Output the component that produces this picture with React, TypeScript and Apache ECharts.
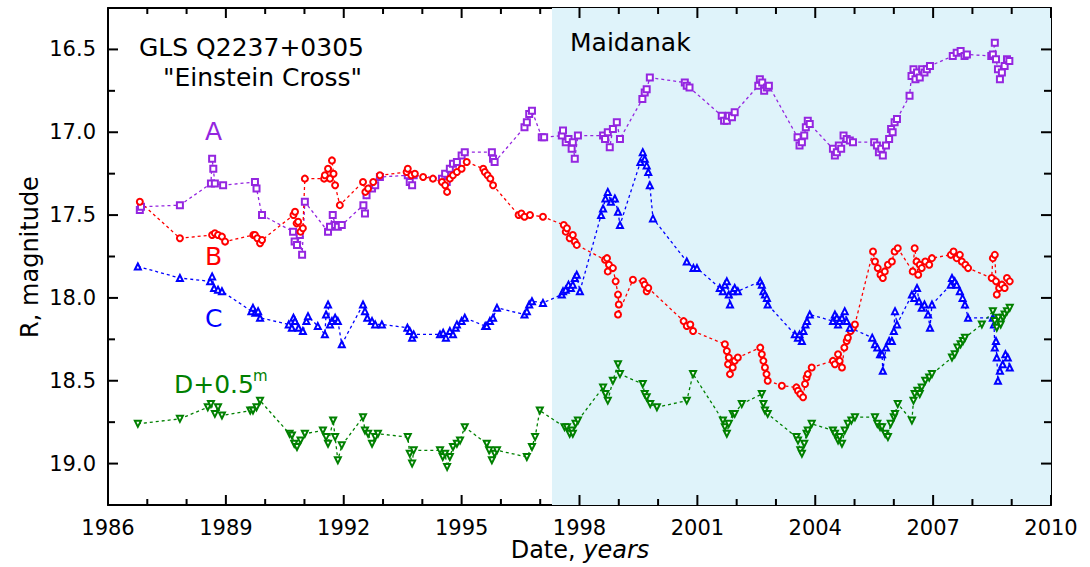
import React, { useEffect, useRef } from "react";
import * as echarts from "echarts";

// ---- Data (year, R magnitude) ----
const seriesA: number[][] = [
  [1986.81,17.47],[1986.84,17.45],
  [1987.83,17.44],
  [1988.62,17.31],[1988.65,17.16],[1988.68,17.22],[1988.72,17.31],[1988.93,17.32],
  [1989.74,17.30],[1989.78,17.34],[1989.92,17.50],
  [1990.71,17.60],[1990.75,17.66],[1990.81,17.68],[1990.88,17.62],[1990.94,17.74],[1991.01,17.42],
  [1991.60,17.60],[1991.65,17.57],[1991.72,17.50],[1991.78,17.56],[1991.85,17.57],[1991.95,17.56],
  [1992.50,17.44],[1992.54,17.49],[1992.58,17.38],[1992.72,17.34],[1992.80,17.32],[1992.92,17.27],
  [1993.63,17.26],[1993.68,17.30],[1993.74,17.32],[1993.78,17.26],
  [1994.50,17.28],[1994.58,17.25],[1994.62,17.30],[1994.70,17.22],[1994.78,17.19],[1994.88,17.18],[1995.00,17.14],[1995.08,17.12],
  [1995.77,17.12],[1995.80,17.16],[1995.84,17.18],
  [1996.60,16.97],[1996.66,16.94],[1996.72,16.89],[1996.79,16.87],
  [1997.04,17.03],[1997.10,17.03],
  [1997.55,17.02],[1997.58,16.99],[1997.65,17.06],[1997.72,17.04],[1997.80,17.10],[1997.83,17.06],[1997.88,17.16],[1997.96,17.02],
  [1998.60,17.02],[1998.65,17.04],[1998.72,17.00],[1998.77,17.09],[1998.85,16.98],[1998.95,16.94],[1999.03,17.04],
  [1999.60,16.80],[1999.66,16.76],[1999.71,16.74],[1999.79,16.67],
  [2000.68,16.70],[2000.73,16.72],[2000.80,16.73],
  [2001.62,16.90],[2001.68,16.93],[2001.75,16.93],[2001.80,16.90],[2001.88,16.91],[2001.95,16.88],
  [2002.55,16.72],[2002.59,16.68],[2002.65,16.70],[2002.70,16.75],[2002.77,16.73],[2002.82,16.72],
  [2003.55,17.03],[2003.60,17.08],[2003.66,17.06],[2003.72,17.02],[2003.76,16.97],[2003.81,16.93],[2003.86,16.95],
  [2004.45,17.10],[2004.50,17.14],[2004.55,17.12],[2004.60,17.08],[2004.66,17.10],[2004.72,17.02],[2004.80,17.04],[2004.88,17.05],[2004.96,17.06],
  [2005.50,17.06],[2005.57,17.08],[2005.62,17.12],[2005.68,17.10],[2005.72,17.14],[2005.80,17.08],[2005.88,17.04],[2005.93,16.98],[2005.97,17.00],[2006.02,16.94],[2006.08,16.92],
  [2006.40,16.78],
  [2006.45,16.66],[2006.50,16.62],[2006.55,16.68],[2006.59,16.64],[2006.66,16.67],[2006.72,16.62],[2006.78,16.64],[2006.84,16.62],[2006.92,16.60],
  [2007.50,16.54],[2007.60,16.52],[2007.70,16.51],[2007.80,16.54],[2007.86,16.53],
  [2008.48,16.54],[2008.52,16.53],[2008.57,16.46],[2008.60,16.56],[2008.65,16.62],[2008.70,16.68],[2008.75,16.64],[2008.82,16.60],[2008.88,16.56],[2008.94,16.57]
];

const seriesB: number[][] = [
  [1986.81,17.42],
  [1987.83,17.64],
  [1988.65,17.62],[1988.72,17.61],[1988.80,17.62],[1988.90,17.63],[1988.98,17.66],
  [1989.70,17.62],[1989.74,17.62],[1989.80,17.64],[1989.87,17.67],[1989.92,17.65],
  [1990.72,17.50],[1990.76,17.48],[1990.80,17.55],[1990.84,17.54],[1990.90,17.60],[1990.96,17.58],
  [1991.01,17.28],
  [1991.50,17.28],[1991.52,17.26],[1991.60,17.22],[1991.65,17.28],[1991.70,17.17],[1991.74,17.25],[1991.78,17.32],[1991.90,17.44],
  [1992.49,17.30],[1992.55,17.36],[1992.62,17.34],[1992.75,17.30],[1992.92,17.26],
  [1993.60,17.24],[1993.63,17.22],[1993.72,17.26],[1993.81,17.25],
  [1994.02,17.27],[1994.27,17.28],
  [1994.50,17.30],[1994.58,17.32],[1994.63,17.36],[1994.70,17.28],[1994.78,17.26],[1994.88,17.24],[1995.00,17.22],[1995.13,17.18],
  [1995.55,17.22],[1995.59,17.24],[1995.66,17.26],[1995.73,17.28],[1995.80,17.32],
  [1996.45,17.50],[1996.52,17.49],[1996.60,17.51],[1996.74,17.50],[1997.07,17.51],
  [1997.60,17.56],[1997.65,17.60],[1997.68,17.58],[1997.75,17.64],[1997.83,17.62],[1997.88,17.66],[1997.93,17.68],
  [1998.65,17.77],[1998.70,17.76],[1998.75,17.80],[1998.72,17.84],[1998.85,17.82],[1998.92,17.90],[1998.98,17.98],[1999.00,18.04],[1998.98,18.10],
  [1999.36,17.89],
  [1999.62,17.90],[1999.66,17.92],[1999.71,17.96],[1999.75,17.94],
  [2000.65,18.14],[2000.73,18.17],[2000.82,18.16],[2000.89,18.20],
  [2001.70,18.28],[2001.75,18.32],[2001.78,18.40],[2001.80,18.36],[2001.83,18.46],[2001.90,18.42],[2001.95,18.38],[2002.03,18.36],
  [2002.60,18.30],[2002.64,18.34],[2002.68,18.38],[2002.72,18.42],[2002.76,18.46],[2002.79,18.50],
  [2003.15,18.53],
  [2003.52,18.54],[2003.56,18.56],[2003.62,18.58],[2003.69,18.60],[2003.74,18.52],[2003.78,18.48],[2003.81,18.46],[2003.91,18.42],
  [2004.45,18.38],[2004.50,18.40],[2004.58,18.34],[2004.62,18.38],[2004.68,18.42],[2004.74,18.30],[2004.80,18.26],[2004.83,18.24],[2004.90,18.20],[2004.96,18.18],[2005.01,18.16],
  [2005.47,17.72],[2005.52,17.78],[2005.59,17.82],[2005.66,17.86],[2005.72,17.88],[2005.77,17.84],[2005.85,17.80],[2005.95,17.78],[2006.02,17.72],[2006.10,17.70],
  [2006.48,17.84],[2006.53,17.70],[2006.58,17.78],[2006.62,17.86],[2006.66,17.80],[2006.71,17.82],[2006.80,17.78],[2006.90,17.80],[2006.97,17.76],
  [2007.45,17.74],[2007.52,17.72],[2007.60,17.76],[2007.68,17.74],[2007.73,17.78],[2007.82,17.80],[2007.89,17.82],
  [2008.49,17.88],[2008.52,17.76],[2008.57,17.74],[2008.60,17.90],[2008.62,17.98],[2008.68,17.94],[2008.75,17.92],[2008.82,17.94],[2008.88,17.88],[2008.95,17.90]
];

const seriesC: number[][] = [
  [1986.76,17.81],
  [1987.83,17.88],
  [1988.60,17.90],[1988.65,17.87],[1988.70,17.94],[1988.80,17.95],[1988.90,17.96],
  [1989.65,18.08],[1989.69,18.06],[1989.75,18.09],[1989.82,18.08],[1989.87,18.12],
  [1990.60,18.16],[1990.68,18.18],[1990.72,18.12],[1990.76,18.14],[1990.85,18.18],[1990.96,18.20],[1991.05,18.14],[1991.09,18.11],
  [1991.34,18.17],[1991.52,18.22],[1991.55,18.10],[1991.60,18.04],[1991.65,18.16],[1991.70,18.14],[1991.78,18.12],[1991.85,18.14],[1991.95,18.28],
  [1992.49,18.04],[1992.54,18.08],[1992.60,18.12],[1992.72,18.14],[1992.80,18.16],[1992.97,18.16],
  [1993.62,18.18],[1993.68,18.20],[1993.74,18.24],[1993.78,18.22],
  [1994.45,18.22],[1994.53,18.21],[1994.60,18.24],[1994.70,18.20],[1994.78,18.22],[1994.85,18.18],[1994.88,18.16],[1995.00,18.14],[1995.08,18.12],
  [1995.60,18.17],[1995.64,18.17],[1995.72,18.14],[1995.80,18.12],[1995.90,18.06],
  [1996.60,18.10],[1996.66,18.08],[1996.72,18.04],[1996.79,18.02],[1997.07,18.03],
  [1997.55,17.98],[1997.58,17.96],[1997.65,17.95],[1997.72,17.92],[1997.78,17.94],[1997.83,17.92],[1997.88,17.88],[1997.93,17.86],[1998.01,17.96],
  [1998.55,17.50],[1998.60,17.46],[1998.66,17.40],[1998.72,17.36],[1998.80,17.42],[1998.90,17.40],[1998.98,17.48],[1999.03,17.56],
  [1999.55,17.18],[1999.61,17.12],[1999.66,17.16],[1999.71,17.20],[1999.75,17.24],[1999.79,17.32],[1999.87,17.52],
  [2000.73,17.78],[2000.90,17.82],[2000.99,17.82],
  [2001.57,17.94],[2001.65,17.96],[2001.70,17.92],[2001.75,17.90],[2001.80,17.98],[2001.83,18.04],[2001.90,17.96],[2001.95,17.94],[2002.03,17.96],
  [2002.60,17.90],[2002.64,17.92],[2002.68,17.96],[2002.72,17.98],[2002.77,18.00],[2002.79,18.04],
  [2003.48,18.22],[2003.56,18.24],[2003.60,18.22],[2003.66,18.26],[2003.70,18.20],[2003.75,18.16],[2003.79,18.14],[2003.86,18.10],
  [2004.45,18.14],[2004.50,18.10],[2004.55,18.12],[2004.58,18.16],[2004.62,18.14],[2004.68,18.12],[2004.75,18.08],[2004.80,18.14],[2004.88,18.18],
  [2005.45,18.24],[2005.52,18.28],[2005.58,18.30],[2005.65,18.34],[2005.70,18.34],[2005.72,18.44],[2005.80,18.30],[2005.88,18.26],[2005.95,18.26],[2006.00,18.20],[2006.03,18.08],[2006.08,18.16],
  [2006.46,17.98],[2006.52,18.00],[2006.59,17.94],[2006.64,18.02],[2006.71,18.06],[2006.78,18.04],[2006.87,18.10],[2006.92,18.18],[2006.97,18.04],
  [2007.45,17.92],[2007.48,17.88],[2007.55,17.90],[2007.60,17.92],[2007.68,17.96],[2007.75,18.00],[2007.81,18.04],[2007.89,18.12],
  [2008.52,18.12],[2008.55,18.16],[2008.57,18.30],[2008.60,18.26],[2008.62,18.36],[2008.65,18.50],[2008.70,18.44],[2008.77,18.40],[2008.84,18.34],[2008.90,18.36],[2008.95,18.42]
];

const seriesD: number[][] = [
  [1986.76,18.76],
  [1987.83,18.73],
  [1988.54,18.66],[1988.62,18.64],[1988.72,18.70],[1988.80,18.66],[1988.90,18.71],
  [1989.62,18.68],[1989.69,18.68],[1989.78,18.66],[1989.87,18.62],
  [1990.62,18.82],[1990.68,18.83],[1990.74,18.88],[1990.81,18.90],[1990.90,18.86],[1991.01,18.82],
  [1991.47,18.80],[1991.55,18.84],[1991.60,18.88],[1991.73,18.74],[1991.78,18.84],[1991.85,18.98],[1991.95,18.89],
  [1992.49,18.72],[1992.54,18.80],[1992.62,18.82],[1992.72,18.88],[1992.80,18.84],[1992.87,18.82],
  [1993.63,18.84],[1993.68,18.94],[1993.74,19.00],[1993.78,18.92],
  [1994.45,18.92],[1994.52,18.96],[1994.58,18.94],[1994.63,19.02],[1994.70,18.96],[1994.78,18.90],[1994.88,18.88],[1994.96,18.86],[1995.08,18.78],
  [1995.64,18.88],[1995.70,18.92],[1995.77,18.98],[1995.84,18.94],[1995.90,18.92],
  [1996.66,18.96],[1996.79,18.90],[1996.87,18.84],[1996.99,18.68],
  [1997.62,18.78],[1997.68,18.78],[1997.75,18.82],[1997.80,18.80],[1997.83,18.82],[1997.90,18.76],[1997.96,18.74],
  [1998.60,18.54],[1998.66,18.58],[1998.72,18.62],[1998.85,18.50],[1998.98,18.40],[1999.03,18.46],
  [1999.61,18.52],[1999.66,18.58],[1999.71,18.60],[1999.80,18.64],[1999.97,18.66],
  [2000.73,18.62],[2000.89,18.46],
  [2001.65,18.74],[2001.70,18.78],[2001.75,18.82],[2001.80,18.76],[2001.90,18.70],[2001.95,18.70],[2002.13,18.64],
  [2002.64,18.58],[2002.68,18.64],[2002.72,18.68],[2002.79,18.70],
  [2003.52,18.84],[2003.56,18.86],[2003.62,18.92],[2003.66,18.94],[2003.72,18.88],[2003.78,18.82],[2003.81,18.80],[2003.91,18.76],
  [2004.45,18.80],[2004.50,18.82],[2004.58,18.86],[2004.62,18.84],[2004.68,18.88],[2004.75,18.80],[2004.83,18.76],[2004.92,18.74],[2005.01,18.72],
  [2005.52,18.72],[2005.58,18.76],[2005.65,18.78],[2005.70,18.78],[2005.78,18.82],[2005.85,18.84],[2005.92,18.76],[2006.00,18.72],[2006.03,18.70],[2006.10,18.64],
  [2006.46,18.74],[2006.50,18.62],[2006.53,18.58],[2006.60,18.56],[2006.66,18.58],[2006.71,18.54],[2006.80,18.50],[2006.90,18.48],[2006.97,18.46],
  [2007.48,18.36],[2007.55,18.34],[2007.62,18.30],[2007.70,18.28],[2007.76,18.26],[2007.81,18.24],
  [2008.24,18.16],
  [2008.52,18.08],[2008.57,18.14],[2008.62,18.18],[2008.66,18.12],[2008.72,18.16],[2008.78,18.12],[2008.82,18.10],[2008.88,18.08],[2008.95,18.06]
];

const maidanakStart = 1997.3;
const xMin = 1986, xMax = 2010, xStep = 3;
const yMin = 16.25, yMax = 19.25;
const xMajorTicks = [1986, 1989, 1992, 1995, 1998, 2001, 2004, 2007, 2010];
const xMinorTicks = [1987, 1988, 1990, 1991, 1993, 1994, 1996, 1997, 1999, 2000, 2002, 2003, 2005, 2006, 2008, 2009];
const yMajor = [16.5, 17.0, 17.5, 18.0, 18.5, 19.0];
const yMinor = [16.75, 17.25, 17.75, 18.25, 18.75];

const COL_A = "#9426e0";
const COL_B = "#ff0000";
const COL_C = "#0000ff";
const COL_D = "#008000";
const FONT = "'DejaVu Sans', Verdana, sans-serif";

export default function App() {
  const ref = useRef<HTMLDivElement>(null);
  useEffect(() => {
    document.body.style.margin = "0";
    const chart = echarts.init(ref.current!, undefined, { renderer: "svg" });
    const axisLine = { show: true, onZero: false, lineStyle: { color: "#000", width: 2 } };
    const mkX = (pos: "bottom" | "top", labels: boolean) => ({
      type: "value", position: pos, min: xMin, max: xMax, interval: xStep,
      axisLine, splitLine: { show: false }, axisTick: { show: false }, minorTick: { show: false },
      axisLabel: { show: labels, color: "#000", fontSize: 21, fontFamily: FONT, margin: 12, formatter: (v: number) => String(v) },
    });
    const mkY = (pos: "left" | "right", labels: boolean) => ({
      type: "value", position: pos, inverse: true, min: yMin, max: yMax,
      axisLine, splitLine: { show: false }, axisTick: { show: false },
      axisLabel: { show: labels, customValues: yMajor, color: "#000", fontSize: 21, fontFamily: FONT, margin: 12, formatter: (v: number) => v.toFixed(1) },
    });
    const mkSeries = (name: string, data: number[][], color: string, symbol: string, rotate = 0) => ({
      name, type: "line", data, xAxisIndex: 0, yAxisIndex: 0, z: 3,
      symbol, symbolSize: 6, symbolRotate: rotate,
      itemStyle: { color, borderWidth: 1.2 },
      lineStyle: { color, width: 1.3, type: [3, 3] },
    });
    chart.setOption({
      animation: false,
      backgroundColor: "#fff",
      grid: { left: 108, right: 39, top: 8, bottom: 62, containLabel: false },
      xAxis: [mkX("bottom", true), mkX("top", false)],
      yAxis: [mkY("left", true), mkY("right", false)],
      series: [
        {
          type: "line", data: [[maidanakStart, yMin]], symbol: "none", z: 1, silent: true,
          lineStyle: { width: 0 },
          markArea: { silent: true, itemStyle: { color: "#dff3fa" }, data: [[{ xAxis: maidanakStart }, { xAxis: xMax }]] },
        },
        mkSeries("A", seriesA, COL_A, "emptyRect"),
        mkSeries("B", seriesB, COL_B, "emptyCircle"),
        mkSeries("C", seriesC, COL_C, "emptyTriangle"),
        mkSeries("D+0.5", seriesD, COL_D, "emptyTriangle", 180),
      ],
    });
    // Static decorations placed through the axes' own scales
    const px = (x: number, y: number) => chart.convertToPixel({ gridIndex: 0 } as any, [x, y]) as number[];
    const els: any[] = [];
    const tick = (x: number, y: number, dx: number, dy: number) => {
      const p = px(x, y);
      els.push({ type: "line", silent: true, z: 100, shape: { x1: p[0], y1: p[1], x2: p[0] + dx, y2: p[1] + dy }, style: { stroke: "#000", lineWidth: 2 } });
    };
    xMajorTicks.forEach((v) => { tick(v, yMax, 0, -10); tick(v, yMin, 0, 10); });
    xMinorTicks.forEach((v) => { tick(v, yMax, 0, -6); tick(v, yMin, 0, 6); });
    yMajor.forEach((v) => { tick(xMin, v, 10, 0); tick(xMax, v, -10, 0); });
    yMinor.forEach((v) => { tick(xMin, v, 7, 0); tick(xMax, v, -7, 0); });
    const t = (text: string, x: number, y: number, size: number, fill: string, extra: any = {}) =>
      els.push({ type: "text", silent: true, z: 100, x, y, style: { text, fontSize: size, fontFamily: FONT, fill, ...extra } });
    t("GLS Q2237+0305", 139, 35, 25, "#000");
    t("\"Einstein Cross\"", 163, 65, 25, "#000");
    t("A", 205, 119, 25, COL_A);
    t("B", 205, 244, 25, COL_B);
    t("C", 205, 306, 25, COL_C);
    t("D+0.5", 174, 372, 25, COL_D);
    t("m", 253, 368, 15, COL_D);
    t("Maidanak", 570, 30, 25, "#000");
    // axis titles
    els.push({ type: "text", silent: true, z: 100, x: 580, y: 538, style: { text: "{a|Date, }{b|years}", align: "center", rich: { a: { fontSize: 24, fontFamily: FONT, fill: "#000" }, b: { fontSize: 24, fontFamily: FONT, fontStyle: "italic", fill: "#000" } } } });
    els.push({ type: "text", silent: true, z: 100, x: 30, y: 257, rotation: Math.PI / 2, style: { text: "R, magnitude", fontSize: 24, fontFamily: FONT, fill: "#000", align: "center", verticalAlign: "middle" } });
    chart.setOption({ graphic: { elements: els } });
    return () => chart.dispose();
  }, []);
  return <div ref={ref} style={{ width: 1090, height: 567 }} />;
}
